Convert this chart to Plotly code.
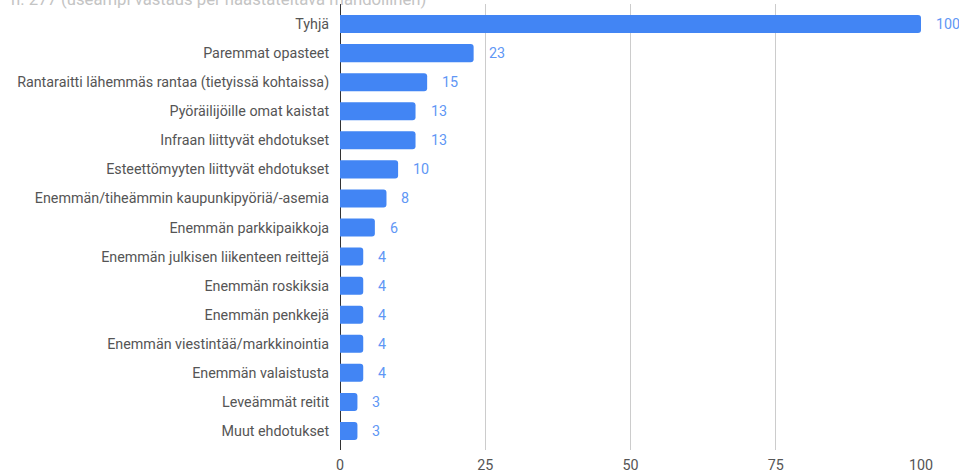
import plotly.graph_objects as go

categories = [
    "Tyhjä",
    "Paremmat opasteet",
    "Rantaraitti lähemmäs rantaa (tietyissä kohtaissa)",
    "Pyöräilijöille omat kaistat",
    "Infraan liittyvät ehdotukset",
    "Esteettömyyten liittyvät ehdotukset",
    "Enemmän/tiheämmin kaupunkipyöriä/-asemia",
    "Enemmän parkkipaikkoja",
    "Enemmän julkisen liikenteen reittejä",
    "Enemmän roskiksia",
    "Enemmän penkkejä",
    "Enemmän viestintää/markkinointia",
    "Enemmän valaistusta",
    "Leveämmät reitit",
    "Muut ehdotukset",
]
values = [100, 23, 15, 13, 13, 10, 8, 6, 4, 4, 4, 4, 4, 3, 3]
x_ticks = [0, 25, 50, 75, 100]
title_text = "n. 277 (useampi vastaus per haastateltava mahdollinen)"

FS = 14.3

fig = go.Figure()
fig.add_trace(go.Bar(
    x=values,
    y=categories,
    orientation="h",
    marker=dict(color="#4285F4", line=dict(width=0)),
    hoverinfo="x+y",
))

for c, v in zip(categories, values):
    fig.add_annotation(
        x=v, y=c, text=str(v), showarrow=False,
        xanchor="left", xshift=13,
        font=dict(family="Roboto", size=FS, color="#5f97f5"),
    )

fig.add_annotation(
    x=0, y=1, xref="paper", yref="paper", text=title_text, showarrow=False,
    xanchor="left", yanchor="bottom", xshift=-331, yshift=-7,
    font=dict(family="Roboto", size=16.7, color="#c4c4c4"),
)

n = len(categories)
fig.update_layout(
    width=959, height=473,
    margin=dict(l=340, r=38, t=4, b=23, pad=0),
    paper_bgcolor="white", plot_bgcolor="white",
    bargap=0.38,
    barcornerradius=3,
    showlegend=False,
    font=dict(family="Roboto", size=FS, color="#555"),
    xaxis=dict(
        range=[0, 100], tickvals=x_ticks, showgrid=True, gridcolor="#cccccc",
        gridwidth=1, zeroline=True, zerolinecolor="#333333", zerolinewidth=1,
        ticks="outside", ticklen=2, tickcolor="rgba(0,0,0,0)",
        tickfont=dict(family="Roboto", size=FS, color="#555"),
        automargin=False, fixedrange=True,
    ),
    yaxis=dict(
        range=[n - 0.5 + 0.155, -0.69], showgrid=False, ticks="outside", ticklen=7,
        tickcolor="rgba(0,0,0,0)",
        tickfont=dict(family="Roboto", size=FS, color="#555"),
        automargin=False, fixedrange=True,
    ),
)

fig.write_html(
    "out.html",
    config={"displayModeBar": False},
    post_script="document.body.style.margin='0';document.body.style.overflow='hidden';",
)
